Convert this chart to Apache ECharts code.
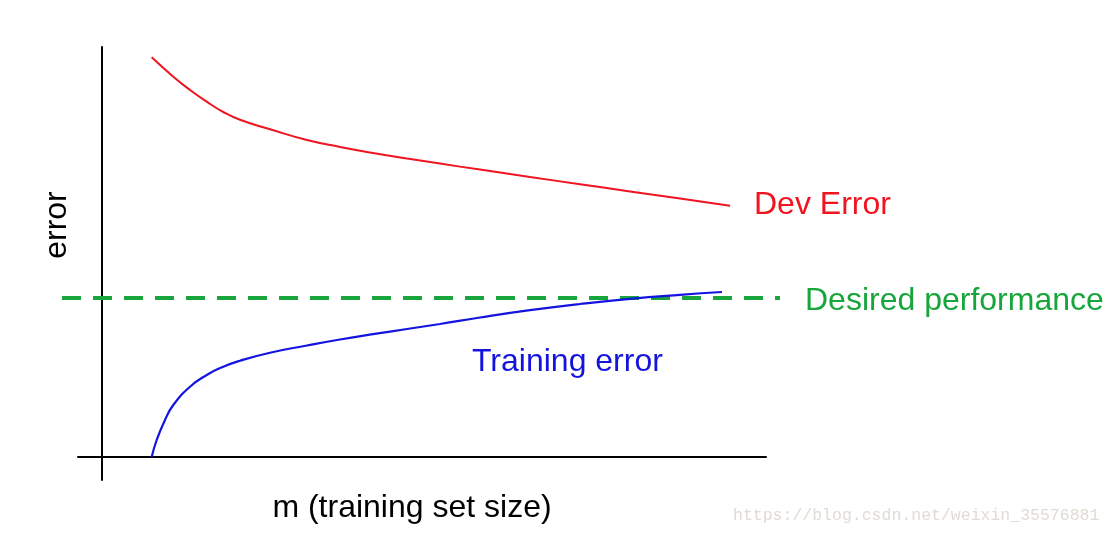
<!DOCTYPE html>
<html>
<head>
<meta charset="utf-8">
<script src="https://cdn.jsdelivr.net/npm/echarts@6/dist/echarts.min.js"></script>
<style>
html,body{margin:0;padding:0;background:#fff;}
#chart{width:1112px;height:536px;}
</style>
</head>
<body>
<div id="chart"></div>
<script>
// training set size (arbitrary units) and error values
const devX   = [4.97, 7.13, 8.8, 10.47, 12.13, 13.8, 16.8, 20.5, 23.8, 27.1, 30.5, 33.8, 37.8, 42.8, 47.8, 52.8, 57.8, 62.8];
const devErr = [39.97, 38.03, 36.7, 35.53, 34.5, 33.72, 32.77, 31.7, 31.01, 30.41, 29.85, 29.34, 28.74, 28.0, 27.28, 26.56, 25.84, 25.12];
const trainX   = [4.97, 5.47, 6.3, 7.13, 8.8, 10.47, 12.13, 13.8, 16.8, 20.5, 23.8, 27.1, 30.5, 33.8, 37.8, 42.8, 47.8, 52.8, 57.8, 62.0];
const trainErr = [0.0, 1.7, 3.7, 5.2, 7.03, 8.2, 9.03, 9.63, 10.43, 11.15, 11.75, 12.28, 12.8, 13.3, 13.95, 14.68, 15.3, 15.82, 16.22, 16.5];
const desiredX = [-4.0, 67.8];
const desiredLevel = 15.9;
const labels = {
  yName: 'error',
  xName: 'm (training set size)',
  dev: 'Dev Error',
  train: 'Training error',
  desired: 'Desired performance',
  mark: 'https://blog.csdn.net/weixin_35576881'
};

const zip = (xs, ys) => xs.map((x, i) => [x, ys[i]]);
const FONT = '"Liberation Sans", Arial, Helvetica, sans-serif';
const RED = '#ef1420', BLUE = '#1414e0', GREEN = '#18a53b';
const hidden = { axisLine: { show: false }, axisTick: { show: false }, axisLabel: { show: false }, splitLine: { show: false } };

const chart = echarts.init(document.getElementById('chart'));
chart.setOption({
  animation: false,
  backgroundColor: '#fff',
  grid: [
    { left: 78, right: 346, top: 47, bottom: 56 },
    { left: 62, right: 332, top: 47, bottom: 56 }
  ],
  xAxis: [
    {
      type: 'value', gridIndex: 0, min: -2.4, max: 66.4,
      axisLine: { onZero: true, lineStyle: { color: '#000', width: 2 } },
      axisTick: { show: false }, axisLabel: { show: false }, splitLine: { show: false }
    },
    Object.assign({ type: 'value', gridIndex: 1, min: -4.0, max: 67.8 }, hidden)
  ],
  yAxis: [
    {
      type: 'value', gridIndex: 0, min: -2.3, max: 41.0,
      axisLine: { show: true, onZero: true, lineStyle: { color: '#000', width: 2 } },
      axisTick: { show: false }, axisLabel: { show: false }, splitLine: { show: false }
    },
    Object.assign({ type: 'value', gridIndex: 1, min: -2.3, max: 41.0 }, hidden)
  ],
  series: [
    {
      type: 'line', xAxisIndex: 1, yAxisIndex: 1,
      data: zip(desiredX, desiredX.map(() => desiredLevel)),
      showSymbol: false, z: 1,
      lineStyle: { color: GREEN, width: 4, type: [19, 12] }
    },
    {
      type: 'line', data: zip(devX, devErr), smooth: 0.5, showSymbol: false,
      lineStyle: { color: RED, width: 2 }, z: 2
    },
    {
      type: 'line', data: zip(trainX, trainErr), smooth: 0.5, showSymbol: false,
      lineStyle: { color: BLUE, width: 2.2 }, z: 3
    }
  ],
  graphic: [
    { type: 'text', x: 57, y: 225, rotation: Math.PI / 2,
      style: { text: labels.yName, font: '32px ' + FONT, fill: '#000', textAlign: 'center', textVerticalAlign: 'middle' } },
    { type: 'text', x: 412, y: 508,
      style: { text: labels.xName, font: '32px ' + FONT, fill: '#000', textAlign: 'center', textVerticalAlign: 'middle' } },
    { type: 'text', x: 754, y: 205,
      style: { text: labels.dev, font: '32px ' + FONT, fill: RED, textAlign: 'left', textVerticalAlign: 'middle' } },
    { type: 'text', x: 805, y: 301,
      style: { text: labels.desired, font: '32px ' + FONT, fill: GREEN, textAlign: 'left', textVerticalAlign: 'middle' } },
    { type: 'text', x: 472, y: 362,
      style: { text: labels.train, font: '32px ' + FONT, fill: BLUE, textAlign: 'left', textVerticalAlign: 'middle' } },
    { type: 'text', x: 733, y: 516,
      style: { text: labels.mark, font: '16.5px "Liberation Mono", monospace', fill: '#e0dcd5', textAlign: 'left', textVerticalAlign: 'middle' } }
  ]
});
</script>
</body>
</html>
